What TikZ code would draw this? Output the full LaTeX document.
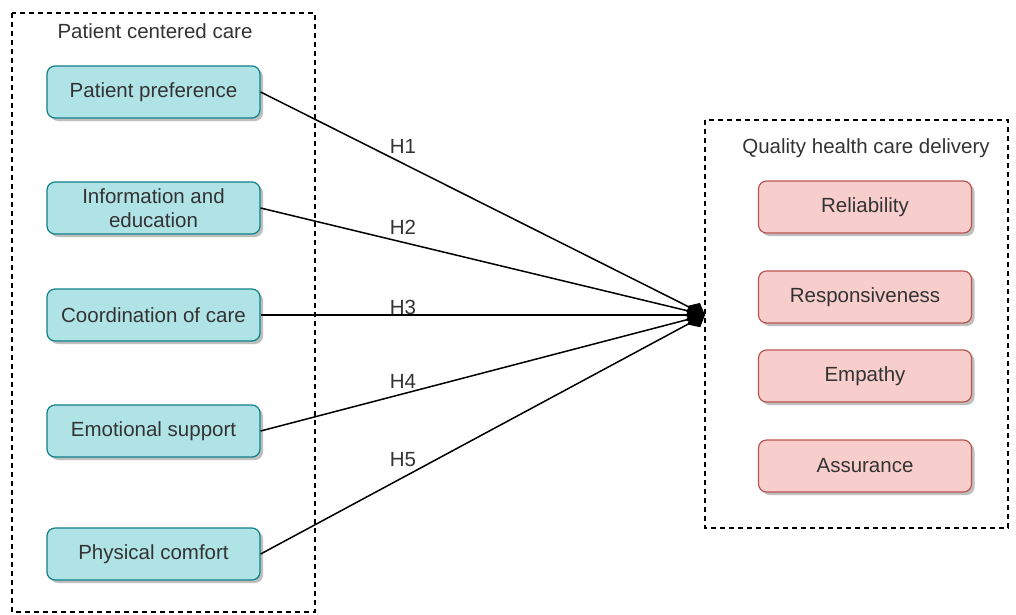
\documentclass[tikz,border=0pt]{standalone}
\usepackage{fontspec}
\setmainfont{Liberation Sans}
\usetikzlibrary{arrows.meta,shadows}
\definecolor{txtgray}{HTML}{333333}
\definecolor{tealfill}{HTML}{B0E3E6}
\definecolor{tealline}{HTML}{0E8088}
\definecolor{pinkfill}{HTML}{F8CECC}
\definecolor{pinkline}{HTML}{B85450}

\begin{document}
\begin{tikzpicture}[x=1pt, y=-1pt,
    every node/.style={font=\fontsize{20.5}{24}\selectfont, text=txtgray},
    group/.style={draw=black, line width=1.3pt, dash pattern=on 5pt off 4pt},
    factor/.style={draw=tealline, fill=tealfill, line width=1.2pt, rounded corners=8pt,
        minimum width=213pt, minimum height=52pt, align=center,
        drop shadow={shadow xshift=3pt, shadow yshift=-3pt, fill=black, opacity=0.25}},
    outcome/.style={factor, draw=pinkline, fill=pinkfill},
    link/.style={line width=1.5pt, -{Diamond[length=20pt, width=17pt]}}]
    \useasboundingbox (0,0) rectangle (1016,614);
    % Draw the two groups
    \draw[group] (12,13) rectangle (315,612);
    \draw[group] (705,120) rectangle (1008,528);
    \node (pcc) at (155,31) {Patient centered care};
    \node (qhc) at (866,148) {Quality health care delivery};
    % Patient centered care factors
    \node[factor] (pref) at (153.5,92) {Patient preference};
    \node[factor] (info) at (153.5,208) {Information and\\education};
    \node[factor] (coord) at (153.5,315) {Coordination of care};
    \node[factor] (emo) at (153.5,431) {Emotional support};
    \node[factor] (phys) at (153.5,554) {Physical comfort};
    % Quality dimensions
    \node[outcome] (rel) at (865,207) {Reliability};
    \node[outcome] (resp) at (865,297) {Responsiveness};
    \node[outcome] (emp) at (865,376) {Empathy};
    \node[outcome] (ass) at (865,466) {Assurance};
    % Hypotheses
    \coordinate (hub) at (705,315);
    \draw[link] (pref.east) -- (hub);
    \draw[link] (info.east) -- (hub);
    \draw[link] (coord.east) -- (hub);
    \draw[link] (emo.east) -- (hub);
    \draw[link] (phys.east) -- (hub);
    \node (h1) at (403,146) {H1};
    \node (h2) at (403,227) {H2};
    \node (h3) at (403,307) {H3};
    \node (h4) at (403,381) {H4};
    \node (h5) at (403,460) {H5};
\end{tikzpicture}
\end{document}
